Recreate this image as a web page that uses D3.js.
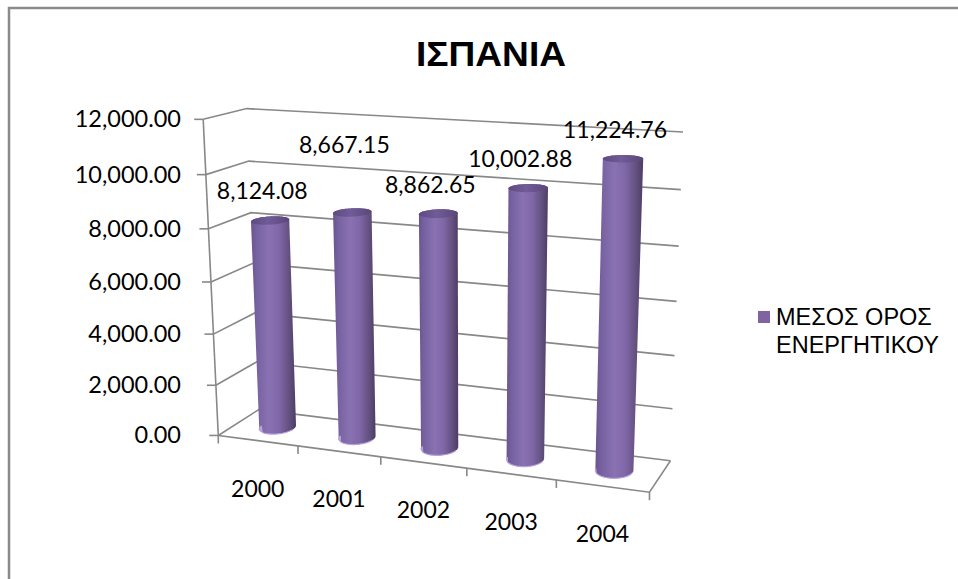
<!DOCTYPE html>
<html>
<head>
<meta charset="utf-8">
<script src="https://cdn.jsdelivr.net/npm/d3@7"></script>
<style>
  body { margin: 0; background: #fff; }
  svg { display: block; }
</style>
</head>
<body>
<svg id="chart" width="958" height="579"></svg>
<script>
// ---- data ----
const years = ["2000", "2001", "2002", "2003", "2004"];
const values = [8124.08, 8667.15, 8862.65, 10002.88, 11224.76];
const yTicks = [0, 2000, 4000, 6000, 8000, 10000, 12000];
const legendLines = ["ΜΕΣΟΣ ΟΡΟΣ", "ΕΝΕΡΓΗΤΙΚΟΥ"];
const chartTitle = "ΙΣΠΑΝΙΑ";

// ---- 3D plot box (world units): x across categories, y up, z into depth ----
const BOX_W = 5, BOX_H = 1, BOX_D = 0.8;

// screen positions of the box corners that fix the perspective view
const viewAnchors = [
  [[0, 0, 0], [218, 435]],
  [[0, BOX_H, 0], [203, 120]],
  [[0, BOX_H, BOX_D], [247, 108]],
  [[BOX_W, BOX_H, BOX_D], [683, 132]],
  [[BOX_W, 0, BOX_D], [670, 461]],
  [[0, 0, BOX_D], [259, 410]],
  [[BOX_W, 0, 0], [650, 492]]
];

// Fit a 3x4 perspective camera (DLT, least squares) to the anchors
const NCX = 450, NCY = 300, NS = 250;
function fitCamera(pairs) {
  const rows = [], rhs = [];
  for (const [[X, Y, Z], [u, v]] of pairs) {
    const un = (u - NCX) / NS, vn = (v - NCY) / NS;
    rows.push([X, Y, Z, 1, 0, 0, 0, 0, -un * X, -un * Y, -un * Z]); rhs.push(un);
    rows.push([0, 0, 0, 0, X, Y, Z, 1, -vn * X, -vn * Y, -vn * Z]); rhs.push(vn);
  }
  const n = 11;
  const M = Array.from({length: n}, () => new Array(n + 1).fill(0));
  rows.forEach((r, k) => {
    for (let i = 0; i < n; i++) {
      for (let j = 0; j < n; j++) M[i][j] += r[i] * r[j];
      M[i][n] += r[i] * rhs[k];
    }
  });
  for (let c = 0; c < n; c++) {
    let p = c;
    for (let r = c + 1; r < n; r++) if (Math.abs(M[r][c]) > Math.abs(M[p][c])) p = r;
    [M[c], M[p]] = [M[p], M[c]];
    for (let r = 0; r < n; r++) {
      if (r === c) continue;
      const f = M[r][c] / M[c][c];
      for (let k = c; k <= n; k++) M[r][k] -= f * M[c][k];
    }
  }
  return M.map((row, i) => row[n] / row[i]);
}
const cam = fitCamera(viewAnchors);
function project([X, Y, Z]) {
  const w = cam[8] * X + cam[9] * Y + cam[10] * Z + 1;
  const un = (cam[0] * X + cam[1] * Y + cam[2] * Z + cam[3]) / w;
  const vn = (cam[4] * X + cam[5] * Y + cam[6] * Z + cam[7]) / w;
  return [un * NS + NCX, vn * NS + NCY];
}

// ---- scales ----
const x = d3.scaleBand().domain(years).range([0, BOX_W]);
const y = d3.scaleLinear().domain([0, 12000]).range([0, BOX_H]);
const fmt = d3.format(",.2f");

const svg = d3.select("#chart");
const line = d3.line();
const GRID = "#888888";

// gradients for the cylinders
const defs = svg.append("defs");
const bodyGrad = defs.append("linearGradient").attr("id", "cylBody")
  .attr("x1", 0).attr("x2", 1).attr("y1", 0).attr("y2", 0);
[[0, "#6a548e"], [0.12, "#7661a0"], [0.4, "#8a72b2"], [0.62, "#8068a8"],
 [0.85, "#64507f"], [1, "#4d3c66"]].forEach(([o, c]) =>
  bodyGrad.append("stop").attr("offset", o).attr("stop-color", c));
const capGrad = defs.append("linearGradient").attr("id", "cylTop")
  .attr("x1", 0).attr("x2", 1).attr("y1", 0).attr("y2", 0);
[[0, "#5e4a80"], [0.45, "#715b98"], [1, "#5a467a"]].forEach(([o, c]) =>
  capGrad.append("stop").attr("offset", o).attr("stop-color", c));

// chart frame
svg.append("rect").attr("x", 9).attr("y", 8).attr("width", 1000).attr("height", 620)
  .attr("fill", "#fff").attr("stroke", "#8a8a8a").attr("stroke-width", 2.5);

// title
svg.append("text").attr("x", 491).attr("y", 66)
  .attr("text-anchor", "middle")
  .attr("textLength", 150).attr("lengthAdjust", "spacingAndGlyphs")
  .style("font", "bold 35px 'Liberation Sans', Arial, sans-serif")
  .text(chartTitle);

// ---- walls: gridlines on side wall and back wall ----
const grid = svg.append("g").attr("fill", "none").attr("stroke", GRID).attr("stroke-width", 1.6);
yTicks.forEach(t => {
  const yy = y(t);
  grid.append("path").attr("d", line([
    project([0, yy, 0]), project([0, yy, BOX_D]), project([BOX_W, yy, BOX_D])
  ]));
});
// floor front and right edges
grid.append("path").attr("d", line([
  project([0, 0, 0]), project([BOX_W, 0, 0]), project([BOX_W, 0, BOX_D])
]));
// value axis line and ticks
grid.append("path").attr("d", line([project([0, 0, 0]), project([0, BOX_H, 0])]));
yTicks.forEach(t => {
  const p = project([0, y(t), 0]);
  grid.append("path").attr("d", line([[p[0] - 9, p[1]], p]));
});
// category boundary ticks
const bounds = years.map(d => x(d)).concat([BOX_W]);
bounds.forEach(b => {
  const p = project([b, 0, 0]);
  grid.append("path").attr("d", line([p, [p[0], p[1] + 8]]));
});

// value axis labels
const numFont = "23px Lato, 'Open Sans', sans-serif";
svg.append("g").selectAll("text").data(yTicks).join("text")
  .attr("x", 181)
  .attr("y", t => project([0, y(t), 0])[1] + 8)
  .attr("text-anchor", "end")
  .style("font", "23.5px Lato, 'Open Sans', sans-serif")
  .text(t => fmt(t));

// category labels
svg.append("g").selectAll("text").data(years).join("text")
  .attr("x", d => project([x(d) + x.bandwidth() / 2, 0, 0])[0])
  .attr("y", d => project([x(d) + x.bandwidth() / 2, 0, 0])[1] + 56)
  .attr("text-anchor", "middle")
  .style("font", numFont)
  .text(d => d);

// ---- cylinders ----
const radius = x.bandwidth() * 0.2;
const zMid = BOX_D / 2;
const steps = d3.range(0, 72).map(i => i / 72 * 2 * Math.PI);
function ring(cx, h) {
  return steps.map(a => project([cx + radius * Math.cos(a), h, zMid + radius * Math.sin(a)]));
}
const bars = svg.append("g");
years.forEach((yr, i) => {
  const cx = x(yr) + x.bandwidth() / 2;
  const h = y(values[i]);
  const topRing = ring(cx, h);
  const botRing = ring(cx, 0);
  const hull = d3.polygonHull(topRing.concat(botRing));
  bars.append("path").attr("d", "M" + hull.join("L") + "Z").attr("fill", "url(#cylBody)");
  // lighter rim along the front of the base
  const front = steps.map((a, k) => [a, botRing[k]]).filter(([a]) => Math.sin(a) < 0)
    .sort((p, q) => p[1][0] - q[1][0]).map(d => d[1]);
  bars.append("path").attr("d", line(front)).attr("fill", "none")
    .attr("stroke", "#b7a3da").attr("stroke-width", 1.2);
  bars.append("path").attr("d", "M" + topRing.join("L") + "Z").attr("fill", "url(#cylTop)");
});

// value labels above each cylinder
const raisedLabels = {"2001": 38};
svg.append("g").selectAll("text").data(years).join("text")
  .attr("x", (d, i) => project([x(d) + x.bandwidth() / 2, y(values[i]), zMid])[0] - 8)
  .attr("y", (d, i) => project([x(d) + x.bandwidth() / 2, y(values[i]), zMid])[1] - 21 - (raisedLabels[d] || 0))
  .attr("text-anchor", "middle")
  .style("font", numFont)
  .text((d, i) => fmt(values[i]));

// ---- legend ----
const legend = svg.append("g");
legend.append("rect").attr("x", 758).attr("y", 311).attr("width", 12).attr("height", 12)
  .attr("fill", "#8064a2");
legend.selectAll("text").data(legendLines).join("text")
  .attr("x", 776).attr("y", (d, i) => 325 + i * 28)
  .style("font", "23.5px 'Liberation Sans', Arial, sans-serif")
  .text(d => d);
</script>
</body>
</html>
